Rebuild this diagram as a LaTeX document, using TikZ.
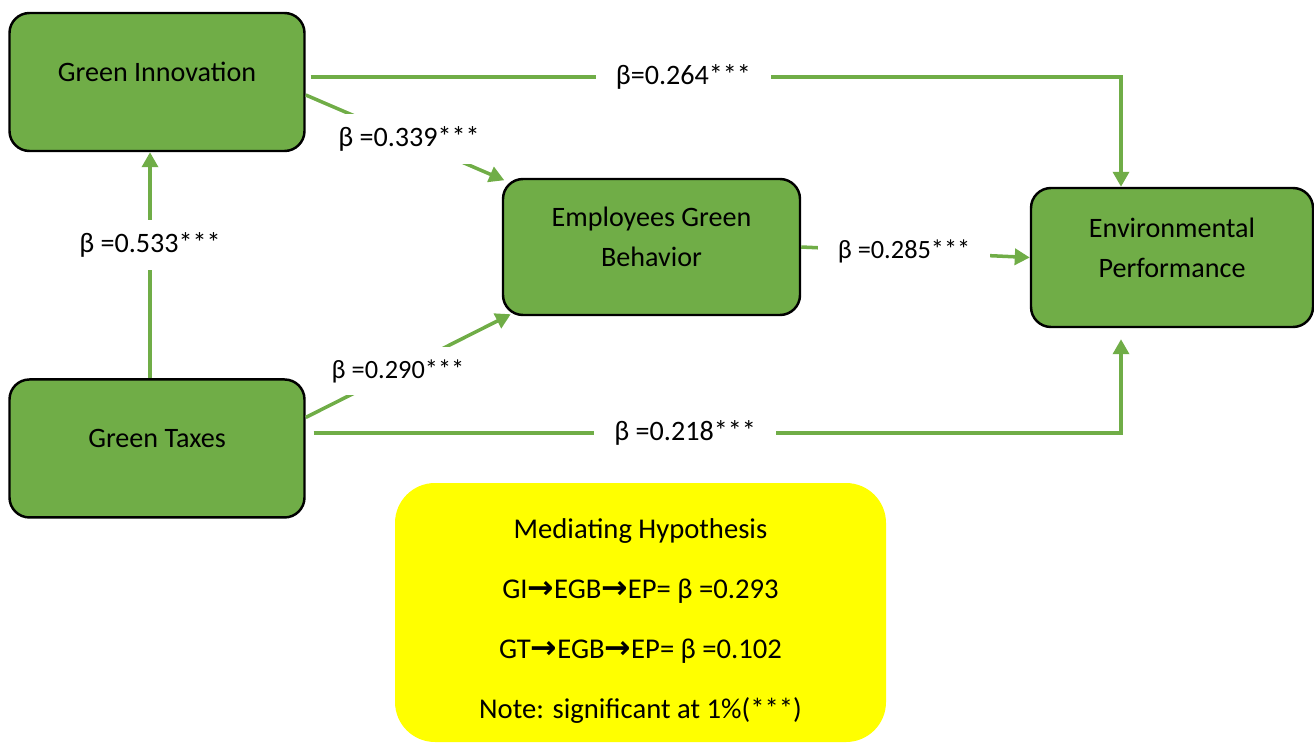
\documentclass[tikz,border=0pt]{standalone}
\usepackage{fontspec}
\setmainfont{Carlito}
\newfontfamily\arrowfont{DejaVu Sans}
\usetikzlibrary{positioning, arrows.meta}
\definecolor{LeafGreen}{RGB}{112, 173, 71}
\definecolor{NoteYellow}{RGB}{255, 255, 0}
\newcommand{\pathto}{{\arrowfont\bfseries\fontsize{18}{18}\selectfont →}}

\begin{document}
\begin{tikzpicture}[
    construct/.style={rectangle, rounded corners=0.4cm, draw=black, line width=1.4pt, fill=LeafGreen, minimum width=5.9cm, minimum height=2.76cm, align=center, text depth=0.4cm, font=\fontsize{16}{22.7}\selectfont},
    note/.style={rectangle, rounded corners=0.8cm, fill=NoteYellow, minimum width=9.82cm, minimum height=5.18cm, align=center, font=\fontsize{16.3}{34}\selectfont},
    coef/.style={fill=white, text=black, inner xsep=0.4cm, inner ysep=0.25cm, font=\fontsize{16}{19}\selectfont},
    flow/.style={-{Triangle[length=0.3cm, width=0.32cm]}, line width=2pt, LeafGreen}
  ]
    \useasboundingbox (0,0) rectangle (26.28,-14.84);

    \node[construct] (gi) at (3.14,-1.64) {Green Innovation};
    \node[construct, below=4.52cm of gi] (gt) {Green Taxes};
    \node[construct, minimum width=5.94cm, minimum height=2.72cm] (egb) at (13.03,-4.94) {Employees Green\\Behavior};
    \node[construct, minimum width=5.64cm, minimum height=2.78cm] (ep) at (23.44,-5.15) {Environmental\\Performance};
    \node[note] (hyp) at (12.81,-12.25) {\rule{0pt}{21pt}Mediating Hypothesis\\GI\pathto EGB\pathto EP= β =0.293\\GT\pathto EGB\pathto EP= β =0.102\\Note: significant at 1\%(***)};

    \coordinate (top) at (22.42,-1.54);
    \coordinate (bottom) at (22.42,-8.66);

    \draw[flow] ([xshift=-0.14cm]gt.north) -- node[coef, pos=0.59] {β =0.533***} ([xshift=-0.14cm]gi.south);
    \draw[flow] ([yshift=-0.26cm]gi.east) -- node[coef, pos=0.52] {β =0.339***} ([xshift=0.05cm, yshift=-0.05cm]egb.north west);
    \draw[flow] ([yshift=0.62cm]gt.east) -- node[coef, pos=0.45, font=\fontsize{15}{18}\selectfont] {β =0.290***} ([xshift=0.18cm, yshift=0.04cm]egb.south west);
    \draw[flow] (egb.east) -- node[coef, pos=0.45, font=\fontsize{15}{18}\selectfont] {β =0.285***} (ep.west);
    \draw[flow] ([xshift=0.1cm]gi.east |- top) -- node[coef, pos=0.46] {β=0.264***} (top) -- (top |- ep.north);
    \draw[flow, shorten >=0.22cm] ([xshift=0.16cm]gt.east |- bottom) -- node[coef, pos=0.46] {β =0.218***} (bottom) -- (bottom |- ep.south);
  \end{tikzpicture}
\end{document}
